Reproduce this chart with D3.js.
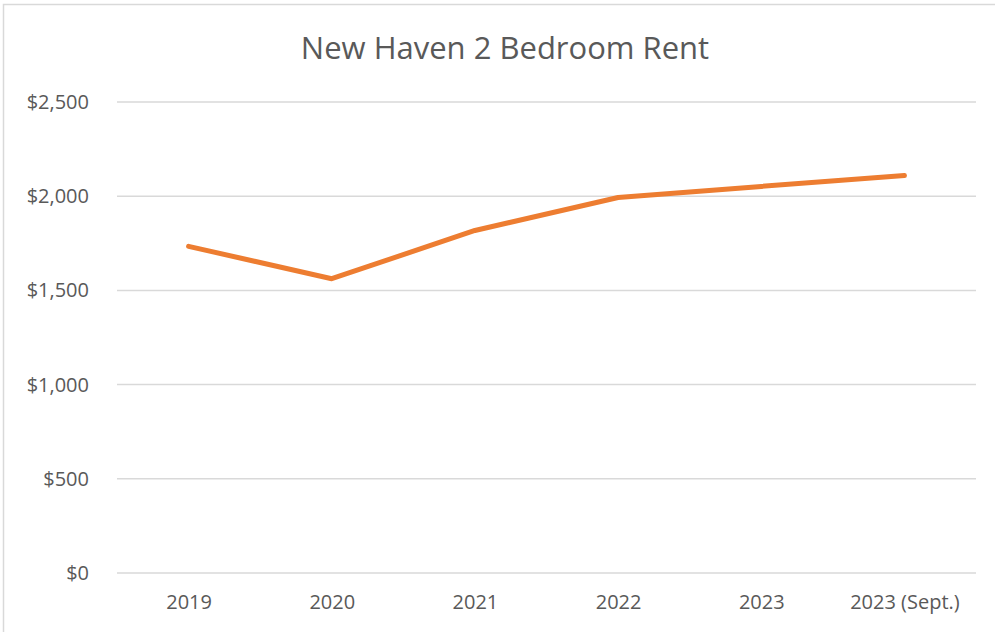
<!DOCTYPE html>
<html lang="en">
<head>
    <meta charset="UTF-8">
    <title>New Haven 2 Bedroom Rent</title>
    <script src="https://d3js.org/d3.v7.min.js"></script>
    <style>
        body { margin: 0; background: #fff; }
        text { font-family: "Open Sans", "Noto Sans", sans-serif; fill: #595959; }
    </style>
</head>
<body>
<svg id="chart" width="995" height="632"></svg>
<script>
    // data
    var years = ["2019", "2020", "2021", "2022", "2023", "2023 (Sept.)"];
    var rents = [1734, 1562, 1818, 1993, 2052, 2110];
    var yTicks = [0, 500, 1000, 1500, 2000, 2500];

    var svg = d3.select('#chart');
    var plotLeft = 117, plotRight = 976, plotTop = 102, plotBottom = 573;

    // outer frame
    svg.append('rect')
        .attr('x', 3.5).attr('y', 4.5)
        .attr('width', 1100).attr('height', 700)
        .attr('fill', 'none')
        .attr('stroke', '#d9d9d9')
        .attr('stroke-width', 1.5);

    svg.append('text')
        .attr('x', 505).attr('y', 59)
        .attr('text-anchor', 'middle')
        .style('font-size', '31px')
        .text('New Haven 2 Bedroom Rent');

    var x = d3.scalePoint().domain(years).range([plotLeft, plotRight]).padding(0.5);
    var y = d3.scaleLinear().domain([0, 2500]).range([plotBottom, plotTop]);

    // gridlines
    svg.append('g').selectAll('line')
        .data(yTicks)
        .enter().append('line')
        .attr('x1', plotLeft).attr('x2', plotRight)
        .attr('y1', d => y(d)).attr('y2', d => y(d))
        .attr('stroke', '#d9d9d9')
        .attr('stroke-width', 1.5);

    var yAxis = d3.axisLeft(y).tickValues(yTicks)
        .tickFormat(d => '$' + d3.format(',')(d))
        .tickSize(0).tickPadding(28);
    svg.append('g')
        .attr('transform', 'translate(' + plotLeft + ',0)')
        .call(yAxis)
        .call(g => g.select('.domain').remove())
        .selectAll('text')
        .style('font-size', '20px');

    var xAxis = d3.axisBottom(x).tickSize(0).tickPadding(22);
    svg.append('g')
        .attr('transform', 'translate(0,' + plotBottom + ')')
        .call(xAxis)
        .call(g => g.select('.domain').remove())
        .selectAll('text')
        .style('font-size', '20px');

    var line = d3.line()
        .x((d, i) => x(years[i]))
        .y(d => y(d));

    svg.append('path')
        .datum(rents)
        .attr('d', line)
        .attr('fill', 'none')
        .attr('stroke', '#ED7D31')
        .attr('stroke-width', 5)
        .attr('stroke-linecap', 'round')
        .attr('stroke-linejoin', 'round');
</script>
</body>
</html>
